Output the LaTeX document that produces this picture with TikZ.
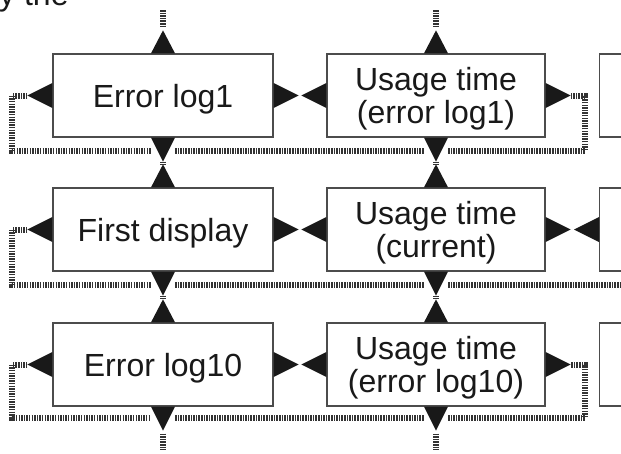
\documentclass[tikz,border=0pt]{standalone}
\usepackage{fontspec}
\setmainfont{Liberation Sans}
\begin{document}
\begin{tikzpicture}[x=1pt,y=-1pt,
  box/.style={draw=black!70, line width=1.3pt, minimum width=220pt, minimum height=83pt, inner sep=0pt, fill=white},
  txt/.style={font=\fontsize{32}{33}\selectfont, text=black!90, align=center, inner sep=0pt},
  hatch/.style={draw=black!80, line width=6pt, dash pattern=on 1.5pt off 1.1pt},
  tri/.style={fill=black!90}]
\useasboundingbox (0,0) rectangle (621,453);
\clip (0,0) rectangle (621,453);

% partial heading text
\node[font=\fontsize{32}{33}\selectfont, text=black!90, inner sep=0pt, anchor=base west] (head) at (-1,5) {y the};

% boxes
\foreach \r/\yy in {1/95.5, 2/229.5, 3/364.5}{
  \node[box] (A\r) at (163,\yy) {};
  \node[box, minimum width=218pt] (B\r) at (436,\yy) {};
  \node[box, minimum width=60pt, anchor=west] (C\r) at (599,\yy) {};
}
\node[txt] (tA1) at ([yshift=-3.5pt]A1.center) {Error log1};
\node[txt] (tB1) at ([yshift=-3.5pt]B1.center) {Usage time\\(error log1)};
\node[txt] (tA2) at ([yshift=-3.5pt]A2.center) {First display};
\node[txt] (tB2) at ([yshift=-3.5pt]B2.center) {Usage time\\(current)};
\node[txt] (tA3) at ([yshift=-3.5pt]A3.center) {Error log10};
\node[txt] (tB3) at ([yshift=-3.5pt]B3.center) {Usage time\\(error log10)};

% triangles (arrowheads) on A and B boxes
\foreach \n in {A1,B1,A2,B2,A3,B3}{
  \fill[tri] ([xshift=-12pt]\n.north) -- ([yshift=23pt]\n.north) coordinate (\n-U) -- ([xshift=12pt]\n.north) -- cycle;
  \fill[tri] ([xshift=-12pt]\n.south) -- ([yshift=-24pt]\n.south) coordinate (\n-D) -- ([xshift=12pt]\n.south) -- cycle;
  \fill[tri] ([yshift=12.5pt]\n.west) -- ([xshift=-25pt]\n.west) coordinate (\n-L) -- ([yshift=-12.5pt]\n.west) -- cycle;
  \fill[tri] ([yshift=12.5pt]\n.east) -- ([xshift=25pt]\n.east) coordinate (\n-R) -- ([yshift=-12.5pt]\n.east) -- cycle;
}
\fill[tri] ([yshift=12.5pt]C2.west) -- ([xshift=-25pt]C2.west) coordinate (C2-L) -- ([yshift=-12.5pt]C2.west) -- cycle;

% hatched connectors
\coordinate (tA) at (163,10);
\coordinate (tB) at (436,10);
\draw[hatch] (tA) -- ([yshift=3pt]A1-U);
\draw[hatch] (tB) -- ([yshift=3pt]B1-U);

\draw[hatch] (A1-L) -- (12,95.5) -- (12,151) -- (151,151);
\draw[hatch] (175,151) -- (424,151);
\draw[hatch] (448,151) -- (585,151) -- (585,95.5) -- (B1-R);

\draw[hatch] (A2-L) -- (12,229.5) -- (12,285) -- (151,285);
\draw[hatch] (175,285) -- (424,285);
\draw[hatch] (448,285) -- (630,285);

\draw[hatch] (A3-L) -- (12,364.5) -- (12,418) -- (151,418);
\draw[hatch] (175,418) -- (424,418);
\draw[hatch] (448,418) -- (585,418) -- (585,364.5) -- (B3-R);

\draw[hatch] (A1-D) -- (A2-U);
\draw[hatch] (B1-D) -- (B2-U);
\draw[hatch] (A2-D) -- (A3-U);
\draw[hatch] (B2-D) -- (B3-U);

\coordinate (bA) at (163,450);
\coordinate (bB) at (436,450);
\draw[hatch] ([yshift=-3pt]A3-D) -- (bA);
\draw[hatch] ([yshift=-3pt]B3-D) -- (bB);
\end{tikzpicture}
\end{document}
